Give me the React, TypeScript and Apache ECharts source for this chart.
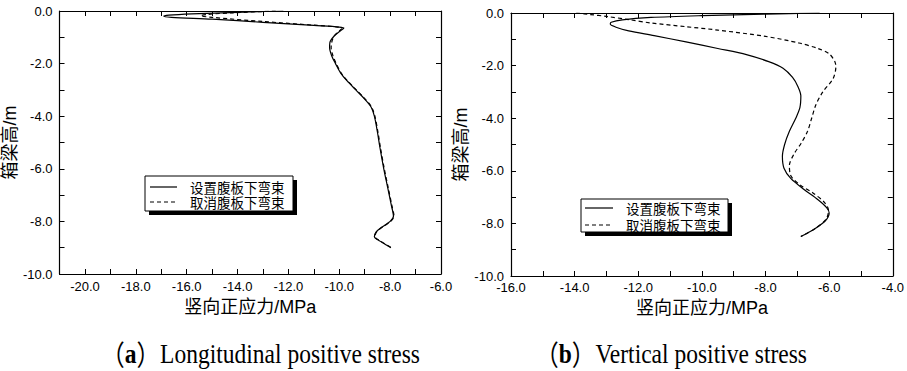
import React, { useEffect, useRef } from "react";
import * as echarts from "echarts";

// Longitudinal positive stress (a)
const longSetStress = [-12.2, -14.0, -15.8, -16.7, -16.9, -16.6, -15.0, -13.0, -11.0, -10.0, -9.82, -9.95, -10.2, -10.37, -10.38, -10.3, -10.15, -9.95, -9.7, -9.35, -9.0, -8.75, -8.62, -8.5, -8.4, -8.25, -8.1, -7.95, -7.87, -8.0, -8.3, -8.55, -8.62, -8.4, -8.15, -7.97];
const longSetHeight = [0, -0.05, -0.11, -0.16, -0.2, -0.24, -0.31, -0.43, -0.55, -0.61, -0.65, -0.75, -0.95, -1.2, -1.4, -1.7, -2.0, -2.35, -2.65, -3.0, -3.35, -3.65, -4.0, -4.6, -5.2, -6.0, -6.7, -7.4, -7.8, -8.0, -8.2, -8.4, -8.58, -8.75, -8.9, -9.0];
const longCancelStress = [-12.5, -14.2, -15.2, -15.45, -15.0, -13.0, -11.0, -10.05, -9.9, -10.0, -10.2, -10.3, -10.32, -10.25, -10.12, -9.93, -9.68, -9.33, -8.98, -8.73, -8.6, -8.48, -8.38, -8.23, -8.08, -7.93, -7.85, -7.98, -8.28, -8.53, -8.6, -8.38, -8.13, -7.95];
const longCancelHeight = [0, -0.07, -0.13, -0.18, -0.24, -0.4, -0.54, -0.61, -0.66, -0.76, -0.95, -1.2, -1.4, -1.7, -2.0, -2.35, -2.65, -3.0, -3.35, -3.65, -4.0, -4.6, -5.2, -6.0, -6.7, -7.4, -7.8, -8.0, -8.2, -8.4, -8.58, -8.75, -8.9, -9.0];

// Vertical positive stress (b)
const vertSetStress = [-6.3, -8.0, -10.0, -11.6, -12.5, -12.85, -12.88, -12.7, -12.3, -11.5, -10.5, -9.5, -8.6, -7.9, -7.45, -7.15, -6.98, -6.89, -6.92, -7.05, -7.25, -7.4, -7.47, -7.42, -7.2, -6.8, -6.35, -6.08, -6.0, -6.12, -6.45, -6.89];
const vertSetHeight = [0, -0.04, -0.1, -0.17, -0.26, -0.35, -0.42, -0.54, -0.68, -0.86, -1.1, -1.35, -1.58, -1.85, -2.1, -2.45, -2.8, -3.15, -3.6, -4.0, -4.5, -5.0, -5.45, -5.9, -6.3, -6.7, -7.1, -7.4, -7.6, -7.9, -8.2, -8.5];
const vertCancelStress = [-13.95, -13.5, -13.0, -12.3, -11.6, -10.5, -9.5, -8.0, -6.95, -6.35, -6.0, -5.82, -5.79, -5.88, -6.2, -6.42, -6.55, -6.68, -6.88, -7.1, -7.25, -7.2, -6.9, -6.5, -6.15, -6.02, -6.1, -6.45, -6.89];
const vertCancelHeight = [0, -0.06, -0.13, -0.25, -0.38, -0.52, -0.65, -0.89, -1.14, -1.35, -1.55, -1.85, -2.05, -2.5, -3.0, -3.5, -4.0, -4.5, -4.95, -5.35, -5.8, -6.2, -6.55, -6.85, -7.2, -7.5, -7.85, -8.2, -8.5];

const seriesNames = ["设置腹板下弯束", "取消腹板下弯束"];
const xAxisTitle = "竖向正应力/MPa";
const yAxisTitle = "箱梁高/m";
const captions = [
  { tag: "a", text: "Longitudinal positive stress" },
  { tag: "b", text: "Vertical positive stress" },
];
const xRanges = [
  [-21, -6],
  [-16, -4],
];
const yRange = [-10, 0];

const zip = (xs: number[], ys: number[]) => xs.map((x, i) => [x, ys[i]]);

const fmt = (v: number) => (Math.abs(v % 2) < 1e-9 ? v.toFixed(1) : "");

const axisLineStyle = { show: true, onZero: false, lineStyle: { color: "#000", width: 1.2 } };
const tickStyle = { show: true, inside: true, length: 5, lineStyle: { color: "#000", width: 1 } };
const labelStyle = {
  color: "#000",
  fontSize: 13,
  fontFamily: "Liberation Sans, Arial, sans-serif",
  formatter: fmt,
  margin: 6,
};
const nameStyle = {
  color: "#000",
  fontSize: 18,
  fontFamily: "Liberation Sans, 'Noto Sans CJK SC', sans-serif",
};

export default function App() {
  const ref = useRef<HTMLDivElement>(null);
  useEffect(() => {
    if (!ref.current) return;
    const chart = echarts.init(ref.current, undefined, { renderer: "svg" });

    const xAxis: any[] = [];
    const yAxis: any[] = [];
    [0, 1].forEach((g) => {
      const [xmin, xmax] = xRanges[g];
      xAxis.push({
        type: "value",
        gridIndex: g,
        position: "bottom",
        min: xmin,
        max: xmax,
        interval: 1,
        axisLine: axisLineStyle,
        axisTick: tickStyle,
        axisLabel: { ...labelStyle, margin: g === 0 ? 6 : 5 },
        splitLine: { show: false },
        name: xAxisTitle,
        nameLocation: "middle",
        nameGap: g === 0 ? 24 : 22,
        nameTextStyle: nameStyle,
      });
      xAxis.push({
        type: "value",
        gridIndex: g,
        position: "top",
        min: xmin,
        max: xmax,
        interval: 1,
        axisLine: axisLineStyle,
        axisTick: tickStyle,
        axisLabel: { show: false },
        splitLine: { show: false },
      });
      yAxis.push({
        type: "value",
        gridIndex: g,
        position: "left",
        min: yRange[0],
        max: yRange[1],
        interval: 1,
        axisLine: axisLineStyle,
        axisTick: tickStyle,
        axisLabel: { ...labelStyle, margin: 7 },
        splitLine: { show: false },
        name: yAxisTitle,
        nameLocation: "middle",
        nameRotate: 90,
        nameGap: g === 0 ? 33 : 34,
        nameTextStyle: nameStyle,
      });
      yAxis.push({
        type: "value",
        gridIndex: g,
        position: "right",
        min: yRange[0],
        max: yRange[1],
        interval: 1,
        axisLine: axisLineStyle,
        axisTick: tickStyle,
        axisLabel: { show: false },
        splitLine: { show: false },
      });
    });

    const mkSeries = (name: string, data: number[][], g: number, dashed: boolean) => ({
      type: "line",
      name,
      xAxisIndex: g * 2,
      yAxisIndex: g * 2,
      data,
      showSymbol: false,
      symbol: "none",
      smooth: 0.3,
      lineStyle: { color: "#000", width: 1.2, type: dashed ? [4, 3] : "solid" },
    });

    const legendBox = (x: number, y: number, w: number, h: number, l1: number, l2: number, lx0: number, lx1: number, tx: number) => [
      { type: "rect", shape: { x: x + 4, y: y + 4, width: w, height: h }, style: { fill: "#000" }, z: 100 },
      { type: "rect", shape: { x, y, width: w, height: h }, style: { fill: "#fff", stroke: "#000", lineWidth: 1 }, z: 101 },
      { type: "line", shape: { x1: lx0, y1: l1, x2: lx1, y2: l1 }, style: { stroke: "#000", lineWidth: 1.2 }, z: 102 },
      { type: "line", shape: { x1: lx0, y1: l2, x2: lx1, y2: l2 }, style: { stroke: "#000", lineWidth: 1.2, lineDash: [4, 3] }, z: 102 },
      { type: "text", x: tx, y: l1, style: { text: seriesNames[0], fill: "#000", fontSize: 13.5, lineHeight: 14, fontFamily: "'Noto Sans CJK SC', sans-serif", verticalAlign: "middle", align: "left" }, z: 102 },
      { type: "text", x: tx, y: l2, style: { text: seriesNames[1], fill: "#000", fontSize: 13.5, lineHeight: 14, fontFamily: "'Noto Sans CJK SC', sans-serif", verticalAlign: "middle", align: "left" }, z: 102 },
    ];

    const captionText = (i: number, xRight: number) => ({
      type: "text",
      x: xRight,
      y: 354,
      scaleX: 0.84,
      style: {
        text: `{p|（}{b|${captions[i].tag}}{p|）}${captions[i].text}`,
        fill: "#000",
        fontSize: 28,
        lineHeight: 30,
        fontFamily: "Liberation Serif, 'Times New Roman', serif",
        align: "right",
        verticalAlign: "middle",
        rich: {
          p: { fontSize: 28, lineHeight: 30, fontFamily: "'Noto Sans CJK SC', sans-serif", fill: "#000" },
          b: { fontSize: 28, lineHeight: 30, fontWeight: "bold", fontFamily: "Liberation Serif, serif", fill: "#000" },
        },
      },
    });

    chart.setOption({
      animation: false,
      backgroundColor: "#fff",
      grid: [
        { left: 57, top: 11, width: 384, height: 263 },
        { left: 511, top: 13, width: 383, height: 263 },
      ],
      xAxis,
      yAxis,
      series: [
        mkSeries(seriesNames[0], zip(longSetStress, longSetHeight), 0, false),
        mkSeries(seriesNames[1], zip(longCancelStress, longCancelHeight), 0, true),
        mkSeries(seriesNames[0], zip(vertSetStress, vertSetHeight), 1, false),
        mkSeries(seriesNames[1], zip(vertCancelStress, vertCancelHeight), 1, true),
      ],
      graphic: [
        ...legendBox(145, 176, 148, 35, 187, 202, 150, 177, 190),
        ...legendBox(581, 199, 147, 33, 208, 225, 585, 613, 626),
        captionText(0, 420),
        captionText(1, 807),
      ],
    });
    return () => chart.dispose();
  }, []);
  return (
    <div
      ref={ref}
      style={{ position: "absolute", left: 0, top: 0, width: 907, height: 371 }}
    />
  );
}
